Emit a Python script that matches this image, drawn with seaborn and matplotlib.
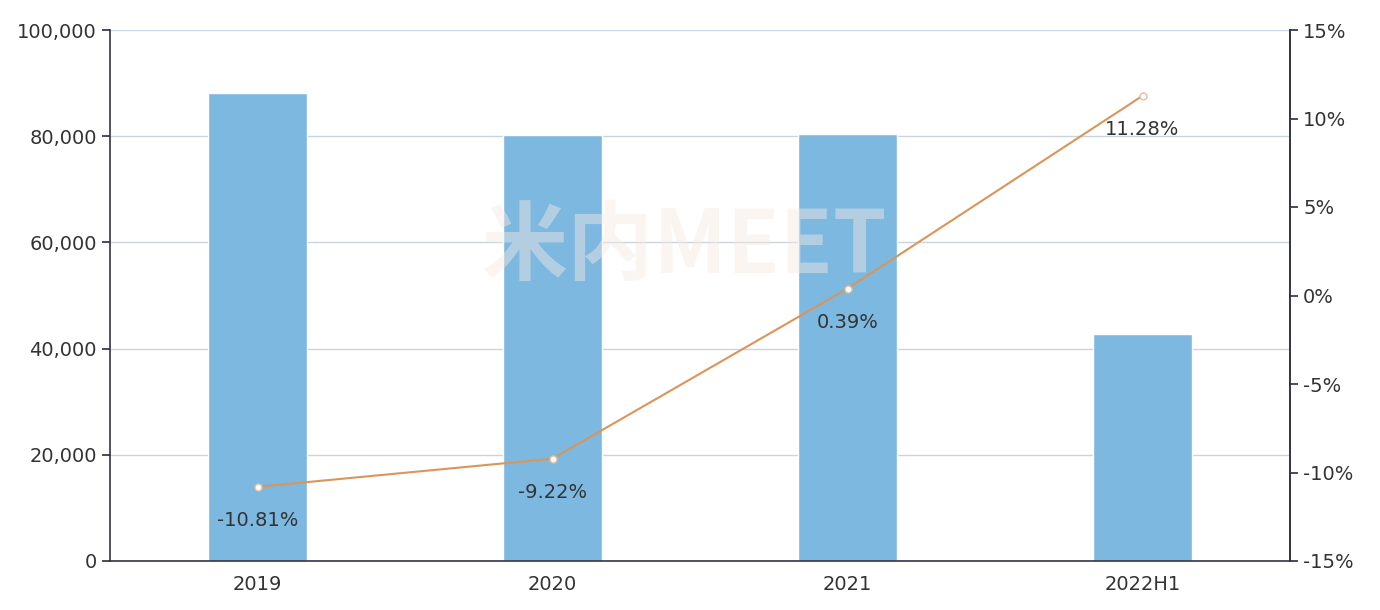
import matplotlib
matplotlib.use("Agg")
import matplotlib.pyplot as plt
import seaborn as sns
import pandas as pd

categories = ["2019", "2020", "2021", "2022H1"]
volumes = [88200, 80200, 80500, 42700]
growth = [-10.81, -9.22, 0.39, 11.28]
growth_labels = ["-10.81%", "-9.22%", "0.39%", "11.28%"]

sns.set_theme(style="white")
plt.rcParams['font.family'] = ['DejaVu Sans', 'Noto Sans CJK SC']

fig = plt.figure(figsize=(13.8, 6.1), dpi=100)
ax = fig.add_axes([110/1380, 1-561/610, 1180/1380, 531/610])
df = pd.DataFrame({"cat": categories, "v": volumes})
sns.barplot(data=df, x="cat", y="v", color="#7db8e0", saturation=1, width=0.335, ax=ax, zorder=2)
ax.set_ylim(0, 100000)
ax.set_xlim(-0.5, 3.5)
ax.set_yticks(range(0, 100001, 20000))
ax.set_yticklabels([f"{v:,}" for v in range(0, 100001, 20000)])
ax.yaxis.grid(True, color="#c8d4e0", lw=1)
ax.set_axisbelow(True)
ax.set_xlabel(""); ax.set_ylabel("")
ax.set_xticks([-0.5, 0.5, 1.5, 2.5, 3.5], minor=False)
ax.set_xticklabels([])
ax.set_xticks([0, 1, 2, 3], minor=True)
ax.set_xticklabels(categories, minor=True)
ax.tick_params(axis="x", which="minor", length=0, labelsize=14, colors="#333333", pad=10)
ax.tick_params(axis="x", which="major", length=6, color="#333344", direction="out")
ax.tick_params(axis="y", length=6, color="#333344", labelsize=14, labelcolor="#333333", direction="out", left=True)
ax.spines["top"].set_visible(False)
for s in ["left", "bottom", "right"]:
    ax.spines[s].set_color("#333344")
    ax.spines[s].set_linewidth(1.2)
ax.text(1.45, 59000, "米内MEET", ha="center", va="center", fontsize=62, fontweight="bold",
        color="#f5ebe0", alpha=0.45, zorder=3, family=['Noto Sans CJK SC'])

ax2 = ax.twinx()
ax2.plot(range(4), growth, color="#d9955a", lw=1.5, marker="o", ms=5, mfc="white", mec="#e0c0a0")
ax2.set_ylim(-15, 15)
ax2.set_yticks(range(-15, 16, 5))
ax2.set_yticklabels([f"{v}%" for v in range(-15, 16, 5)])
ax2.tick_params(axis="y", length=6, color="#333344", labelsize=14, labelcolor="#333333", direction="out", right=True)
ax2.grid(False)
for s in ["top", "left", "bottom"]:
    ax2.spines[s].set_visible(False)
ax2.spines["right"].set_color("#333344")
ax2.spines["right"].set_linewidth(1.2)
for i, (g, lab) in enumerate(zip(growth, growth_labels)):
    ax2.text(i, g - 1.9, lab, ha="center", va="center", fontsize=14, color="#333333")

fig.savefig("out.png", dpi=100)
